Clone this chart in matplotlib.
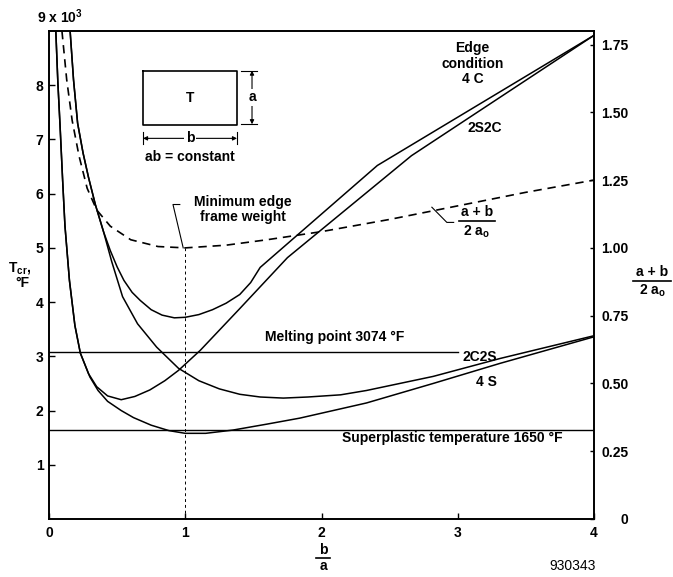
import matplotlib
matplotlib.use("Agg")
import matplotlib.pyplot as plt
from matplotlib.lines import Line2D

plt.rcParams['font.family'] = ['Liberation Sans', 'DejaVu Sans']
plt.rcParams['font.weight'] = 'bold'
plt.rcParams['mathtext.fontset'] = 'custom'
plt.rcParams['mathtext.rm'] = 'Liberation Sans:bold'
plt.rcParams['mathtext.bf'] = 'Liberation Sans:bold'
plt.rcParams['mathtext.it'] = 'Liberation Sans:bold'

# critical temperature, thousands of deg F, versus b/a
x_4c = [0.155, 0.18, 0.21, 0.25, 0.29, 0.34, 0.40, 0.45, 0.50, 0.55, 0.61, 0.67, 0.75, 0.83,
        0.92, 1.00, 1.10, 1.20, 1.30, 1.40, 1.48, 1.55, 2.41, 4.00]
t_4c = [9.0, 8.1, 7.3, 6.75, 6.3, 5.8, 5.3, 4.95, 4.65, 4.40, 4.18, 4.03, 3.86, 3.76,
        3.71, 3.72, 3.77, 3.86, 3.98, 4.14, 4.36, 4.64, 6.52, 8.92]

x_2s2c = [0.05, 0.065, 0.081, 0.10, 0.117, 0.15, 0.19, 0.23, 0.29, 0.35, 0.43, 0.53, 0.63,
          0.74, 0.85, 0.95, 1.11, 1.40, 1.75, 2.66, 4.00]
t_2s2c = [9.0, 8.05, 7.26, 6.25, 5.41, 4.40, 3.57, 3.06, 2.68, 2.44, 2.27, 2.20, 2.26,
          2.38, 2.55, 2.74, 3.11, 3.88, 4.82, 6.70, 8.92]

x_2c2s = [0.155, 0.18, 0.21, 0.25, 0.29, 0.34, 0.40, 0.46, 0.54, 0.65, 0.79, 0.95, 1.10,
          1.25, 1.40, 1.55, 1.72, 1.90, 2.14, 2.33, 2.82, 3.31, 4.00]
t_2c2s = [9.0, 8.1, 7.3, 6.75, 6.3, 5.8, 5.3, 4.75, 4.10, 3.60, 3.17, 2.78, 2.55,
          2.40, 2.30, 2.25, 2.23, 2.25, 2.29, 2.37, 2.63, 2.96, 3.38]

x_4s = [0.05, 0.065, 0.081, 0.10, 0.117, 0.15, 0.19, 0.23, 0.30, 0.36, 0.43, 0.53, 0.62,
        0.75, 0.88, 1.00, 1.15, 1.35, 1.60, 1.84, 2.33, 2.82, 3.31, 4.00]
t_4s = [9.0, 8.05, 7.26, 6.25, 5.41, 4.40, 3.57, 3.06, 2.62, 2.37, 2.17, 2.00, 1.87,
        1.73, 1.63, 1.58, 1.58, 1.64, 1.75, 1.86, 2.14, 2.50, 2.87, 3.36]

# edge frame weight (a + b) / 2a0, right axis
x_w = [0.095, 0.13, 0.17, 0.22, 0.28, 0.35, 0.45, 0.60, 0.80, 1.00, 1.30, 1.60, 2.00,
       2.50, 3.00, 3.50, 4.00]
w = [1.80, 1.62, 1.47, 1.34, 1.22, 1.14, 1.08, 1.03, 1.005, 1.00, 1.01, 1.03, 1.06,
     1.105, 1.155, 1.205, 1.25]

t_melt = 3.074
t_super = 1.650
melt_end = 3.0

x_ticks = [0, 1, 2, 3, 4]
y_ticks = [1, 2, 3, 4, 5, 6, 7, 8]
w_ticks = [0, 0.25, 0.50, 0.75, 1.00, 1.25, 1.50, 1.75]
w_labels = ['0', '0.25', '0.50', '0.75', '1.00', '1.25', '1.50', '1.75']

fs = 10
fig = plt.figure(figsize=(6.73, 5.77), dpi=100)
ax = fig.add_axes([49/673, 58/577, 545/673, 488/577])
ax.set_xlim(0, 4)
ax.set_ylim(0, 9)
ax2 = ax.twinx()
ax2.set_ylim(0, 1.8)

lw = 1.1
for xs, ts in [(x_4c, t_4c), (x_2s2c, t_2s2c), (x_2c2s, t_2c2s), (x_4s, t_4s)]:
    ax.plot(xs, ts, color='black', lw=lw)

ax.plot([0, melt_end], [t_melt, t_melt], color='black', lw=1.0)
ax.plot([0, 4], [t_super, t_super], color='black', lw=1.0)

ax2.plot(x_w, w, color='black', lw=1.2, dashes=(5, 3.5))

# vertical guide at minimum frame weight
i_min = w.index(min(w))
scale = 9 / 1.8
ax.plot([x_w[i_min], x_w[i_min]], [0, w[i_min] * scale], color='black', lw=0.7, dashes=(3, 3))

for sp in ax.spines.values():
    sp.set_linewidth(1.2)
for sp in ax2.spines.values():
    sp.set_linewidth(1.2)

ax.set_xticks(x_ticks)
ax.set_xticklabels([str(v) for v in x_ticks], fontsize=fs, fontweight='bold')
ax.set_yticks(y_ticks)
ax.set_yticklabels([str(v) for v in y_ticks], fontsize=fs, fontweight='bold')
ax.tick_params(axis='x', direction='in', length=4, width=1, pad=5)
ax.tick_params(axis='y', direction='in', length=4, width=1, pad=4)
ax2.set_yticks(w_ticks)
ax2.set_yticklabels(w_labels, fontsize=fs, fontweight='bold')
ax2.tick_params(axis='y', direction='in', length=3, width=1, pad=25)
for lab in ax2.get_yticklabels():
    lab.set_horizontalalignment('right')

ax.text(-0.09, 9.1, r'9 x 10$^{3}$', fontsize=fs, fontweight='bold', ha='left', va='bottom')

# axis labels
fig.text(20/673, 1 - 268/577, r'T$_{\mathbf{cr}}$,', fontsize=fs, fontweight='bold', ha='center', va='center')
fig.text(22/673, 1 - 283/577, '°F', fontsize=fs, fontweight='bold', ha='center', va='center')

fig.text(323/673, 1 - 550/577, 'b', fontsize=fs, fontweight='bold', ha='center', va='center')
fig.add_artist(Line2D([316/673, 330/673], [1 - 558/577, 1 - 558/577], color='black', lw=1.2))
fig.text(323/673, 1 - 566/577, 'a', fontsize=fs, fontweight='bold', ha='center', va='center')

fig.text(652/673, 1 - 272/577, 'a + b', fontsize=fs, fontweight='bold', ha='center', va='center')
fig.add_artist(Line2D([633/673, 671/673], [1 - 281/577, 1 - 281/577], color='black', lw=1.2))
fig.text(652/673, 1 - 291/577, r'2 a$_{\mathbf{o}}$', fontsize=fs, fontweight='bold', ha='center', va='center')

fig.text(573/673, 1 - 566/577, '930343', fontsize=fs, ha='center', va='center', fontweight='normal')

# curve labels
ax.text(3.11, 8.40, 'Edge\ncondition\n4 C', fontsize=fs, fontweight='bold', ha='center', va='center',
        linespacing=1.1)
ax.text(3.20, 7.22, '2S2C', fontsize=fs, fontweight='bold', ha='center', va='center')
ax.text(3.16, 2.98, '2C2S', fontsize=fs, fontweight='bold', ha='center', va='center')
ax.text(3.21, 2.52, '4 S', fontsize=fs, fontweight='bold', ha='center', va='center')
ax.text(2.10, 3.36, 'Melting point 3074 °F', fontsize=fs, fontweight='bold', ha='center', va='center')
ax.text(2.96, 1.50, 'Superplastic temperature 1650 °F', fontsize=fs, fontweight='bold',
        ha='center', va='center')

# minimum frame weight callout
ax.text(1.42, 5.70, 'Minimum edge\nframe weight', fontsize=fs, fontweight='bold', ha='center',
        va='center', linespacing=1.1)
ax.plot([0.96, 0.91, 0.985], [5.80, 5.80, 5.0], color='black', lw=0.8)

# dashed curve label
ax.plot([2.81, 2.92, 2.97], [5.75, 5.47, 5.47], color='black', lw=0.8)
ax.text(3.14, 5.66, 'a + b', fontsize=fs, fontweight='bold', ha='center', va='center')
ax.plot([3.01, 3.27], [5.50, 5.50], color='black', lw=1.2)
ax.text(3.14, 5.30, r'2 a$_{\mathbf{o}}$', fontsize=fs, fontweight='bold', ha='center', va='center')

# inset sketch of the panel
ax.plot([0.69, 1.38, 1.38, 0.69, 0.69], [8.27, 8.27, 7.26, 7.26, 8.27], color='black', lw=1.2)
ax.text(1.035, 7.77, 'T', fontsize=fs, fontweight='bold', ha='center', va='center')
ax.plot([1.41, 1.53], [8.27, 8.27], color='black', lw=0.8)
ax.plot([1.41, 1.53], [7.28, 7.28], color='black', lw=0.8)
ax.annotate('', xy=(1.49, 8.27), xytext=(1.49, 7.28),
            arrowprops=dict(arrowstyle='<|-|>', color='black', lw=0.8, mutation_scale=6,
                            shrinkA=0, shrinkB=0))
ax.text(1.49, 7.78, 'a', fontsize=fs, fontweight='bold', ha='center', va='center',
        bbox=dict(facecolor='white', edgecolor='none', pad=1))
ax.plot([0.69, 0.69], [7.13, 6.92], color='black', lw=0.8)
ax.plot([1.38, 1.38], [7.13, 6.92], color='black', lw=0.8)
ax.annotate('', xy=(0.69, 7.02), xytext=(1.38, 7.02),
            arrowprops=dict(arrowstyle='<|-|>', color='black', lw=0.8, mutation_scale=6,
                            shrinkA=0, shrinkB=0))
ax.text(1.035, 7.02, 'b', fontsize=fs, fontweight='bold', ha='center', va='center',
        bbox=dict(facecolor='white', edgecolor='none', pad=1))
ax.text(1.035, 6.67, 'ab = constant', fontsize=fs, fontweight='bold', ha='center', va='center')

fig.savefig('out.png', dpi=100)
plt.close(fig)
